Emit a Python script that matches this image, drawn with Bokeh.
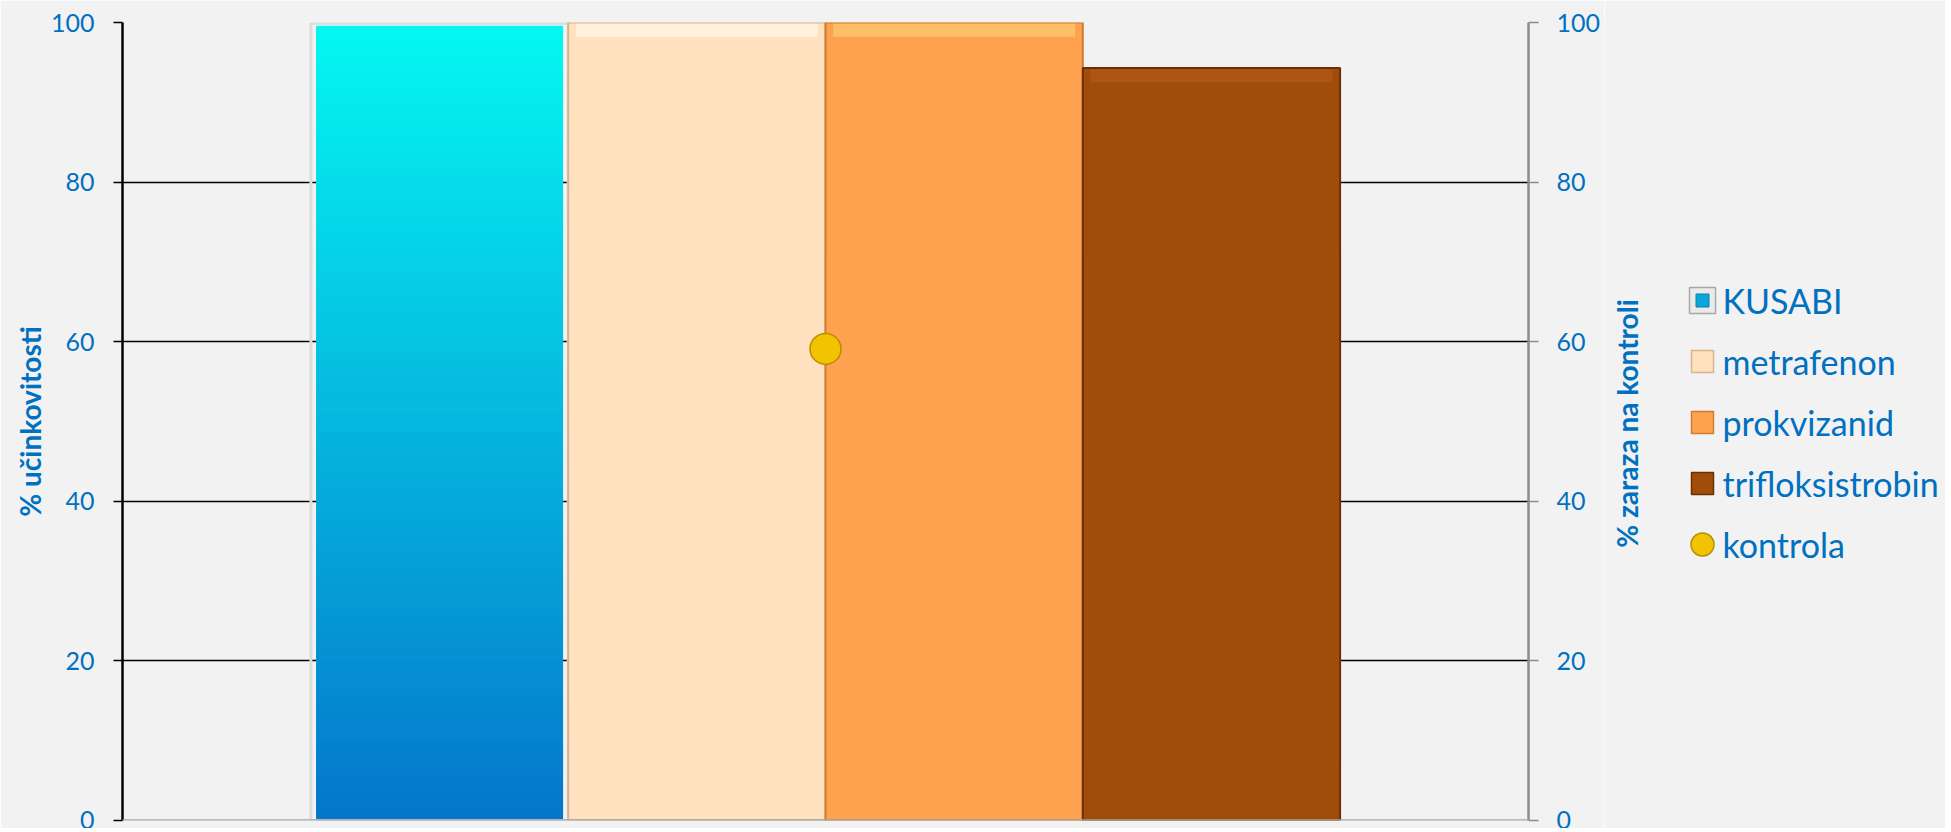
import math
from bokeh.plotting import figure
from bokeh.layouts import row
from bokeh.models import Range1d, LinearAxis, Span, FixedTicker
from bokeh.core.properties import value
from bokeh.embed import file_html
from bokeh.resources import INLINE

# ---- data ----
series = ["KUSABI", "metrafenon", "prokvizanid", "trifloksistrobin"]
efficacy = [99.6, 100.0, 100.0, 94.3]
control_label = "kontrola"
control_value = [59.1]
y_ticks = [0, 20, 40, 60, 80, 100]
left_title = "% učinkovitosti"
right_title = "% zaraza na kontroli"

BLUE = "#0070C0"
BG = "#F2F2F2"
FONT = "Lato"

H = 828
MAIN_W = 1604
LEG_W = 1945 - MAIN_W
TOP_B, BOT_B = 22, 8

p = figure(width=MAIN_W, height=H, x_range=Range1d(0, 1), y_range=Range1d(0, 100),
           output_backend="svg", toolbar_location=None, x_axis_location=None,
           background_fill_color=BG, border_fill_color=BG, outline_line_color=None,
           min_border_left=122, min_border_right=MAIN_W - 1528, min_border_top=TOP_B,
           min_border_bottom=BOT_B)
p.extra_y_ranges = {"sec": Range1d(0, 100)}

# grid
p.ygrid.ticker = FixedTicker(ticks=y_ticks)
p.ygrid.grid_line_color = "black"
p.ygrid.grid_line_width = 1.5
p.xgrid.visible = False

# left axis
ax = p.yaxis[0]
ax.ticker = FixedTicker(ticks=y_ticks)
ax.axis_line_color = "black"
ax.axis_line_width = 2.5
ax.major_tick_line_color = "black"
ax.major_tick_line_width = 1.5
ax.major_tick_out = 9
ax.major_tick_in = 0
ax.minor_tick_line_color = None
ax.major_label_text_color = BLUE
ax.major_label_text_font = FONT
ax.major_label_text_font_size = "25px"
ax.major_label_standoff = 19
ax.axis_label = left_title
ax.axis_label_text_color = BLUE
ax.axis_label_text_font = FONT
ax.axis_label_text_font_style = "bold"
ax.axis_label_text_font_size = "28px"
ax.axis_label_standoff = 1

# right axis (its title is drawn in the side panel next to it)
rax = LinearAxis(y_range_name="sec", ticker=FixedTicker(ticks=y_ticks))
rax.axis_line_color = "#8C8C8C"
rax.axis_line_width = 2.5
rax.major_tick_line_color = "#8C8C8C"
rax.major_tick_line_width = 1.5
rax.major_tick_out = 10
rax.major_tick_in = 0
rax.minor_tick_line_color = None
rax.major_label_text_color = BLUE
rax.major_label_text_font = FONT
rax.major_label_text_font_size = "25px"
rax.major_label_standoff = 18
p.add_layout(rax, "right")

p.add_layout(Span(location=0, dimension="width", line_color="#A6A6A6", line_width=2.5))

# bar geometry
w = 0.183
xs = [0.5 + (i - 1.5) * w for i in range(len(series))]

# KUSABI: vertical gradient built from slices of its own value
n = 90
v = efficacy[0]
bot_c = (5, 118, 203)
top_c = (5, 247, 242)
bottoms, tops, cols = [], [], []
for k in range(n):
    t = (k + 0.5) / n
    c = tuple(int(round(bot_c[j] + (top_c[j] - bot_c[j]) * t)) for j in range(3))
    bottoms.append(v * k / n)
    tops.append(min(v * (k + 1) / n + 0.8, v))
    cols.append("#%02x%02x%02x" % c)
p.vbar(x=[xs[0]] * n, width=w * 0.96, bottom=bottoms, top=tops,
       fill_color=cols, line_color=None)
p.vbar(x=[xs[0]], width=w, bottom=[0], top=[v + 0.3], fill_alpha=0,
       line_color="#DCDCDC", line_width=3)

fills = ["#FFE1BF", "#FFA24F", "#A14D0A"]
lines = ["#D8B490", "#D07C30", "#6A3004"]
hilite = ["#FFF6E8", "#FFC870", "#B0581A"]
for i in range(1, 4):
    p.vbar(x=[xs[i]], width=w, top=[efficacy[i]], bottom=[0],
           fill_color=fills[i - 1], line_color=lines[i - 1], line_width=2)
    p.vbar(x=[xs[i]], width=w * 0.94, top=[efficacy[i] - 0.15],
           bottom=[efficacy[i] - 1.8], fill_color=hilite[i - 1], line_color=None,
           fill_alpha=0.75)

p.scatter(x=[0.5], y=control_value, y_range_name="sec", size=31,
          fill_color="#F2C300", line_color="#B88E00", line_width=1.5)

# ---- side panel (page pixel coordinates, y downward; frame aligned to main frame) ----
leg = figure(width=LEG_W, height=H, x_range=Range1d(MAIN_W, MAIN_W + LEG_W),
             y_range=Range1d(H - BOT_B, TOP_B),
             output_backend="svg", toolbar_location=None, x_axis_location=None,
             y_axis_location=None, background_fill_color=BG, border_fill_color=BG,
             outline_line_color=None, min_border=0)
leg.xgrid.visible = False
leg.ygrid.visible = False

# right axis title
leg.text(x=[1626], y=[423], text=[right_title], angle=math.pi / 2,
         text_font=value(FONT), text_font_style="bold", text_font_size="28px",
         text_align="center", text_baseline="middle", text_color=BLUE)

labels = series + [control_label]
row_y = [300 + 61 * i for i in range(len(labels))]
icon_x = 1702
text_x = 1722

leg.rect(x=[icon_x], y=[row_y[0]], width=26, height=26, width_units="screen",
         height_units="screen", fill_color="#EAEAEA", line_color="#A8A8A8", line_width=1.5)
leg.rect(x=[icon_x], y=[row_y[0]], width=13, height=13, width_units="screen",
         height_units="screen", fill_color="#0AA6DA", line_color="#0A7FB0", line_width=1)
leg.rect(x=[icon_x] * 3, y=row_y[1:4], width=22, height=22, width_units="screen",
         height_units="screen", fill_color=fills, line_color=lines, line_width=1.5)
leg.scatter(x=[icon_x], y=[row_y[4]], size=23, fill_color="#F2C300",
            line_color="#B88E00", line_width=1.5)
leg.text(x=[text_x] * len(labels), y=row_y, text=labels, text_font=value(FONT),
         text_font_size="34px", text_baseline="middle", text_align="left",
         text_color=BLUE)

layout = row(p, leg, spacing=0)
open("out.html", "w").write(file_html(layout, INLINE))
